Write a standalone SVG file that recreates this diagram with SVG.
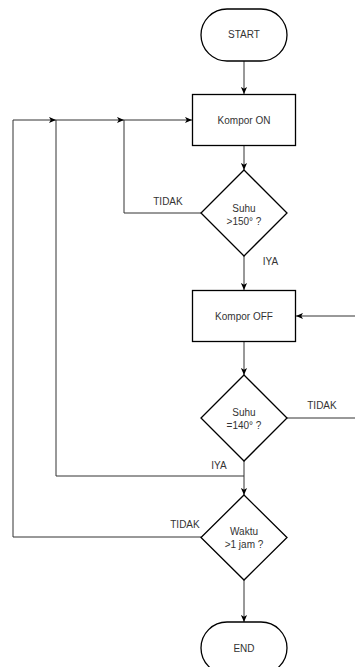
<svg xmlns="http://www.w3.org/2000/svg" width="355" height="667" viewBox="0 0 355 667">
<style>
.shape{fill:#fff;stroke:#000;stroke-width:1.3}
.line{fill:none;stroke:#333;stroke-width:1}
text{font-family:"Liberation Sans",Arial,sans-serif;font-size:10px;fill:#333;text-anchor:middle}
</style>
<defs>
<marker id="arr" viewBox="0 0 8 8" refX="8" refY="4" markerWidth="7" markerHeight="7" markerUnits="userSpaceOnUse" orient="auto">
<path d="M0,0.5 L8,4 L0,7.5 L2,4 Z" fill="#000"/>
</marker>
</defs>
<rect width="355" height="667" fill="#fff"/>
<g id="connectors">
<path class="line" d="M244,61 V94" marker-end="url(#arr)"/>
<path class="line" d="M244,145 V170" marker-end="url(#arr)"/>
<path class="line" d="M201,213 H124 V120 H192" marker-end="url(#arr)"/>
<path class="line" d="M244,256 V290" marker-end="url(#arr)"/>
<path class="line" d="M355,316 H296" marker-end="url(#arr)"/>
<path class="line" d="M244,341 V375" marker-end="url(#arr)"/>
<path class="line" d="M287,418 H355"/>
<path class="line" d="M244,461 V495" marker-end="url(#arr)"/>
<path class="line" d="M244,476 H56 V120 H124" marker-end="url(#arr)"/>
<path class="line" d="M201,537 H13 V120 H56" marker-end="url(#arr)"/>
<path class="line" d="M244,580 V622" marker-end="url(#arr)"/>
<text x="168" y="204.5">TIDAK</text>
<text x="270.5" y="264.5">IYA</text>
<text x="322" y="408.5">TIDAK</text>
<text x="219" y="468.5">IYA</text>
<text x="185" y="527.5">TIDAK</text>
</g>
<g id="start">
<rect class="shape" x="201" y="9" width="86" height="52" rx="26" ry="26"/>
<text x="244" y="37.5">START</text>
</g>
<g id="kompor-on">
<rect class="shape" x="192.5" y="94.5" width="103" height="51"/>
<text x="244" y="123.5">Kompor ON</text>
</g>
<g id="suhu150">
<path class="shape" d="M244,170 L287,213 L244,256 L201,213 Z"/>
<text x="244" y="211.5">Suhu</text>
<text x="244" y="224.5">&gt;150° ?</text>
</g>
<g id="kompor-off">
<rect class="shape" x="192.5" y="290.5" width="103" height="51"/>
<text x="244" y="319.5">Kompor OFF</text>
</g>
<g id="suhu140">
<path class="shape" d="M244,375 L287,418 L244,461 L201,418 Z"/>
<text x="244" y="416">Suhu</text>
<text x="244" y="428.5">=140° ?</text>
</g>
<g id="waktu">
<path class="shape" d="M244,495 L287,537.5 L244,580 L201,537.5 Z"/>
<text x="244" y="534.5">Waktu</text>
<text x="244" y="547.5">&gt;1 jam ?</text>
</g>
<g id="end">
<rect class="shape" x="201" y="622" width="86" height="52" rx="26" ry="26"/>
<text x="244" y="651.5">END</text>
</g>
</svg>
